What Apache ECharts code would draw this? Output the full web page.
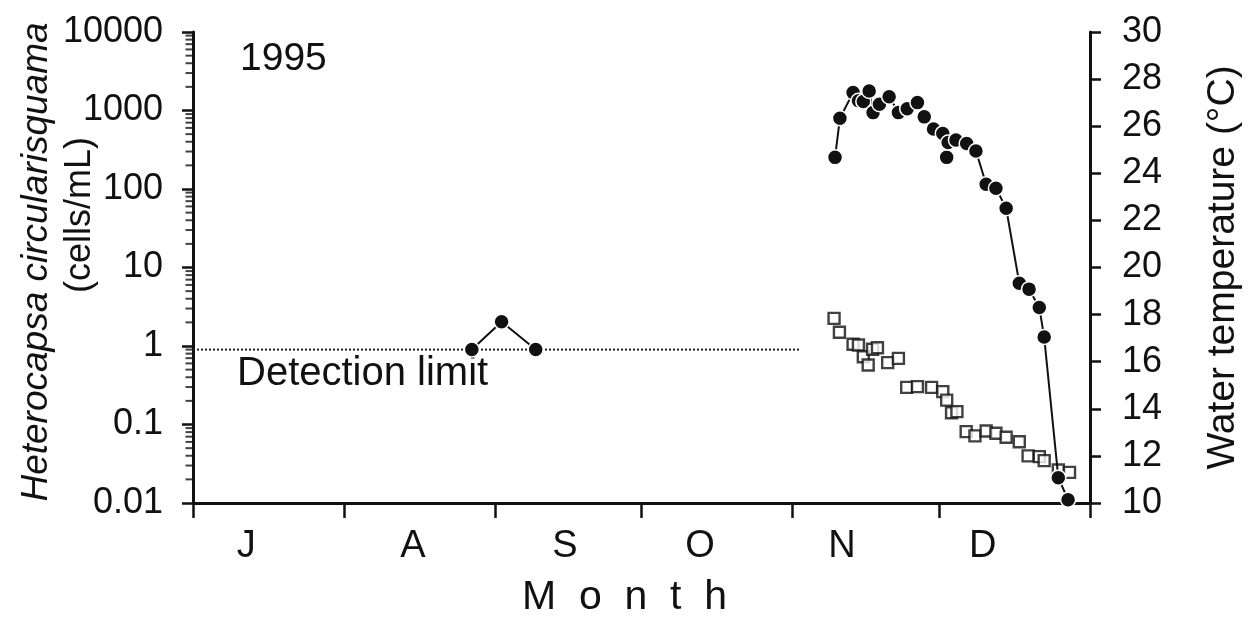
<!DOCTYPE html>
<html>
<head>
<meta charset="utf-8">
<script src="https://cdn.jsdelivr.net/npm/echarts@6/dist/echarts.min.js"></script>
<style>
html,body{margin:0;padding:0;background:#fff;}
#chart{width:1257px;height:619px;}
</style>
</head>
<body>
<div id="chart"></div>
<script>
// ---- data (x = days since 1 July 1995) ----
const monthLabels = ['J', 'A', 'S', 'O', 'N', 'D'];
const monthLabelPos = [10.9, 45.1, 76.3, 104, 133.1, 162];
const monthBounds = [0, 31, 62, 92, 123, 153, 184];
const yTickLabels = ['0.01', '0.1', '1', '10', '100', '1000', '10000'];

const detectionLimit = 0.9;
const detectionEnd = 124.5;

const earlyDays = [57.2, 63.3, 70.3];
const earlyCells = [0.9, 2.04, 0.9];

const bloomDays = [131.7, 132.7, 135.4, 136.5, 137.5, 138.7, 139.5, 140.8, 142.8, 144.7, 146.5, 148.6, 150.0, 151.9, 153.8, 154.6, 154.9, 156.5, 158.7, 160.6, 162.7, 164.7, 166.8, 169.5, 171.5, 173.6, 174.6, 177.5, 179.5];
const bloomCells = [253, 796, 1690, 1330, 1300, 1770, 940, 1200, 1500, 940, 1050, 1260, 830, 580, 510, 253, 390, 420, 380, 305, 115, 102, 57, 6.3, 5.3, 3.1, 1.3, 0.021, 0.011];

const tempDays = [131.5, 132.6, 135.4, 136.5, 137.5, 138.5, 139.4, 140.4, 142.5, 144.7, 146.4, 148.6, 151.5, 153.8, 154.6, 155.6, 156.7, 158.6, 160.4, 162.7, 164.7, 166.8, 169.5, 171.3, 173.6, 174.6, 177.5, 179.8];
const tempValues = [17.84, 17.25, 16.74, 16.71, 16.21, 15.86, 16.53, 16.59, 15.96, 16.14, 14.91, 14.94, 14.91, 14.73, 14.37, 13.83, 13.88, 13.03, 12.85, 13.06, 12.96, 12.79, 12.60, 12.0, 11.97, 11.80, 11.40, 11.30];

// ---- build ----
const FONT = '"Liberation Sans", Arial, Helvetica, sans-serif';
const INK = '#111';
const zip = (a, b) => a.map((v, i) => [v, b[i]]);

// minor log tick values (2..9 in every decade) of the left axis
const minorTickValues = [];
for (let d = -2; d < 4; d++) {
  for (let k = 2; k <= 9; k++) minorTickValues.push(k * Math.pow(10, d));
}

const chart = echarts.init(document.getElementById('chart'), null, {renderer: 'canvas'});

const option = {
  animation: false,
  backgroundColor: '#fff',
  textStyle: {fontFamily: FONT, color: INK},
  grid: {left: 193, right: 167, top: 32, bottom: 116, containLabel: false, outerBoundsMode: 'none'},
  xAxis: {
    type: 'value', min: 0, max: 184, position: 'bottom',
    axisLine: {onZero: false, lineStyle: {color: INK, width: 3}},
    axisTick: {customValues: monthBounds, length: 15, lineStyle: {color: INK, width: 2.5}},
    axisLabel: {
      customValues: monthLabelPos,
      formatter: function (v) {
        let best = 0;
        monthLabelPos.forEach((p, i) => { if (Math.abs(p - v) < Math.abs(monthLabelPos[best] - v)) best = i; });
        return monthLabels[best];
      },
      fontSize: 38, color: INK, margin: 25, fontFamily: FONT
    },
    splitLine: {show: false},
    name: 'M  o  n  t  h', nameLocation: 'middle', nameGap: 74,
    nameTextStyle: {fontSize: 41, color: INK, fontFamily: FONT, padding: [0, 34, 0, 0]}
  },
  yAxis: [
    {
      type: 'log', logBase: 10, min: 0.01, max: 10000, position: 'left',
      axisLine: {show: true, onZero: false, lineStyle: {color: INK, width: 3}},
      axisTick: {show: true, length: 11, lineStyle: {color: INK, width: 2.5}},
      axisLabel: {
        formatter: function (v) { return yTickLabels[Math.round(Math.log10(v)) + 2]; },
        fontSize: 36, color: INK, margin: 30, fontFamily: FONT
      },
      splitLine: {show: false}
    },
    {
      type: 'value', min: 10, max: 30, interval: 2, position: 'right',
      axisLine: {show: true, onZero: false, lineStyle: {color: INK, width: 3}},
      axisTick: {show: true, length: 11, lineStyle: {color: INK, width: 2.5}},
      axisLabel: {fontSize: 36, color: INK, margin: 32, fontFamily: FONT},
      splitLine: {show: false},
      name: 'Water temperature (°C)', nameLocation: 'middle', nameGap: 114,
      nameTextStyle: {fontSize: 39, color: INK, fontFamily: FONT}
    }
  ],
  graphic: [
    {type: 'text', x: 37, y: 262, rotation: Math.PI / 2,
     style: {text: 'Heterocapsa circularisquama', font: 'italic 37px ' + FONT, fill: INK, align: 'center', verticalAlign: 'middle'}},
    {type: 'text', x: 80, y: 215, rotation: Math.PI / 2,
     style: {text: '(cells/mL)', font: '36px ' + FONT, fill: INK, align: 'center', verticalAlign: 'middle'}},
    {type: 'text', left: 240, top: 40, style: {text: '1995', font: '39px ' + FONT, fill: INK}},
    {type: 'text', left: 237, top: 354, style: {text: 'Detection limit', font: '40px ' + FONT, fill: INK}}
  ],
  series: [
    {
      // minor ticks of the log axis, placed through the axis scale
      type: 'scatter', yAxisIndex: 0, silent: true, clip: false, z: 2,
      data: minorTickValues.map(v => [0, v]),
      symbol: 'rect', symbolSize: [7, 2], symbolOffset: [-4, 0],
      itemStyle: {color: INK, borderWidth: 0}
    },
    {
      type: 'line', yAxisIndex: 0, data: [[0, detectionLimit], [detectionEnd, detectionLimit]],
      symbol: 'none', silent: true, z: 1,
      lineStyle: {color: '#222', width: 2, type: 'dotted'}
    },
    {
      type: 'scatter', yAxisIndex: 1, data: zip(tempDays, tempValues),
      symbol: 'rect', symbolSize: 11, z: 3,
      itemStyle: {color: '#fff', borderColor: INK, borderWidth: 2.4}
    },
    {
      type: 'line', yAxisIndex: 0, data: zip(earlyDays, earlyCells),
      symbol: 'circle', symbolSize: 15, z: 5,
      lineStyle: {color: INK, width: 2},
      itemStyle: {color: INK, borderColor: '#fff', borderWidth: 1.5}
    },
    {
      type: 'line', yAxisIndex: 0, data: zip(bloomDays, bloomCells),
      symbol: 'circle', symbolSize: 15, z: 5,
      lineStyle: {color: INK, width: 2},
      itemStyle: {color: INK, borderColor: '#fff', borderWidth: 1.5}
    }
  ]
};
chart.setOption(option);
</script>
</body>
</html>
